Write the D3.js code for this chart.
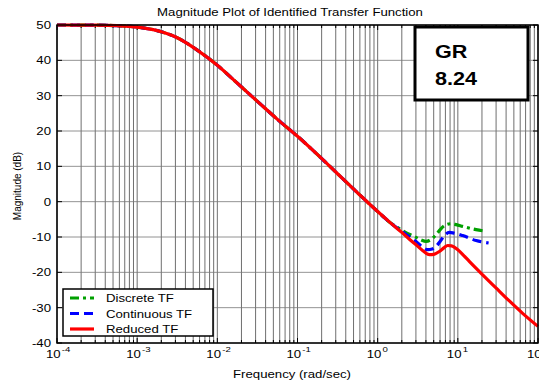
<!DOCTYPE html>
<html>
<head>
<meta charset="utf-8">
<script src="https://cdn.jsdelivr.net/npm/d3@7"></script>
<style>
  body { margin: 0; background: #fff; }
  svg { font-family: "Liberation Sans", Arial, sans-serif; }
</style>
</head>
<body>
<svg id="chart" width="539" height="381"></svg>
<script>
// shared low-frequency part (all three curves overlap here)
const lowW = [0.0001, 0.000316, 0.000562, 0.001, 0.00178, 0.00316, 0.00562, 0.01, 0.0178, 0.0316, 0.0562, 0.1, 0.178, 0.316, 0.562, 1, 1.41];
const lowDb = [50.0, 49.95, 49.8, 49.4, 48.4, 46.4, 42.9, 38.6, 33.5, 28.4, 23.3, 18.5, 13.3, 7.9, 2.5, -2.8, -5.8];

const reducedW = [2.05, 2.51, 3.01, 3.63, 4.42, 5.01, 5.89, 6.76, 7.46, 8.32, 10, 11.7, 13.9, 20.4, 29.9, 43.9, 64.3, 100];
const reducedDb = [-8.9, -10.7, -12.2, -13.8, -15.0, -14.9, -14.1, -13.0, -12.4, -12.5, -13.6, -15.1, -16.9, -20.7, -24.4, -28.1, -31.6, -35.3];

const continuousW = [2.05, 2.51, 3.01, 3.55, 4.2, 4.79, 5.35, 6.03, 6.79, 7.83, 8.91, 11.5, 16.9, 24.2];
const continuousDb = [-8.6, -10.0, -11.3, -12.7, -13.6, -13.4, -12.7, -11.2, -9.6, -8.7, -8.9, -9.6, -11.0, -11.7];

const discreteW = [2.05, 2.51, 3.01, 3.47, 4.01, 4.57, 5.35, 6.03, 6.79, 8.22, 9.55, 11.5, 16.9, 22.4];
const discreteDb = [-8.2, -9.3, -10.1, -10.8, -11.25, -10.8, -9.35, -7.9, -6.8, -6.25, -6.5, -7.0, -7.9, -8.4];

const yTicks = [-40, -30, -20, -10, 0, 10, 20, 30, 40, 50];
const xDecades = [-4, -3, -2, -1, 0, 1, 2];

const series = [
  { name: "Discrete TF", color: "#00a000", dash: "9,4,3,4", w: discreteW, db: discreteDb },
  { name: "Continuous TF", color: "#0000ff", dash: "9,5", w: continuousW, db: continuousDb },
  { name: "Reduced TF", color: "#ff0000", dash: null, w: reducedW, db: reducedDb },
];

const margin = { left: 57, right: 1, top: 25, bottom: 38 };
const width = 539, height = 381;
const sx = 1.2; // text in the original is stretched horizontally
const svg = d3.select("#chart");

const x = d3.scaleLog().domain([1e-4, 1e2]).range([margin.left, width - margin.right]);
const y = d3.scaleLinear().domain([-40, 50]).range([height - margin.bottom, margin.top]);

// minor log positions for grid
const minor = [];
xDecades.slice(0, -1).forEach(d => {
  for (let k = 1; k < 10; k++) minor.push(k * Math.pow(10, d));
});
minor.push(100);

const grid = svg.append("g");
grid.selectAll("line.v")
  .data(minor)
  .join("line")
  .attr("x1", d => x(d)).attr("x2", d => x(d))
  .attr("y1", y(50)).attr("y2", y(-40))
  .attr("stroke", "#4a4a4a").attr("stroke-width", 0.8);
grid.selectAll("line.h")
  .data(yTicks)
  .join("line")
  .attr("x1", x(1e-4)).attr("x2", x(1e2))
  .attr("y1", d => y(d)).attr("y2", d => y(d))
  .attr("stroke", "#777").attr("stroke-width", 0.8);

// tick marks (inside, on all four sides)
const ticks = svg.append("g").attr("stroke", "#000").attr("stroke-width", 1);
minor.forEach(d => {
  const len = (Math.log10(d) % 1 === 0) ? 5 : 3;
  ticks.append("line").attr("x1", x(d)).attr("x2", x(d)).attr("y1", y(-40)).attr("y2", y(-40) - len);
  ticks.append("line").attr("x1", x(d)).attr("x2", x(d)).attr("y1", y(50)).attr("y2", y(50) + len);
});
yTicks.forEach(d => {
  ticks.append("line").attr("x1", x(1e-4)).attr("x2", x(1e-4) + 5).attr("y1", y(d)).attr("y2", y(d));
  ticks.append("line").attr("x1", x(1e2)).attr("x2", x(1e2) - 5).attr("y1", y(d)).attr("y2", y(d));
});

// curves
const line = d3.line()
  .x(d => x(d[0]))
  .y(d => y(d[1]))
  .curve(d3.curveMonotoneX);

svg.append("g").selectAll("path")
  .data(series)
  .join("path")
  .attr("fill", "none")
  .attr("stroke", d => d.color)
  .attr("stroke-width", 3.2)
  .attr("stroke-dasharray", d => d.dash)
  .attr("d", d => line(d3.zip(lowW.concat(d.w), lowDb.concat(d.db))));

// frame
svg.append("rect")
  .attr("x", x(1e-4)).attr("y", y(50))
  .attr("width", x(1e2) - x(1e-4)).attr("height", y(-40) - y(50))
  .attr("fill", "none").attr("stroke", "#000").attr("stroke-width", 1.5);

const at = (px, py) => `translate(${px},${py}) scale(${sx},1)`;

// y tick labels
svg.append("g").attr("text-anchor", "end").attr("font-size", 11)
  .selectAll("text")
  .data(yTicks)
  .join("text")
  .attr("transform", d => at(51, y(d) + 4))
  .text(d => d);

// x tick labels 10^n
svg.append("g").attr("font-size", 11)
  .selectAll("text")
  .data(xDecades)
  .join("text")
  .attr("transform", d => at(x(Math.pow(10, d)) - 11, 358))
  .call(t => t.append("tspan").text("10"))
  .call(t => t.append("tspan").attr("font-size", 8).attr("dy", -6).attr("dx", 1).text(d => d));

// titles
svg.append("text").attr("transform", at(290, 16)).attr("text-anchor", "middle")
  .attr("font-size", 11).text("Magnitude Plot of Identified Transfer Function");
svg.append("text").attr("transform", at(292, 378)).attr("text-anchor", "middle")
  .attr("font-size", 11).text("Frequency (rad/sec)");
svg.append("text").attr("transform", "translate(21,186) rotate(-90)").attr("text-anchor", "middle")
  .attr("font-size", 10).text("Magnitude (dB)");

// GR annotation box
const gr = svg.append("g");
gr.append("rect").attr("x", 415).attr("y", 27).attr("width", 113).attr("height", 73)
  .attr("fill", "#fff").attr("stroke", "#000").attr("stroke-width", 3);
gr.append("text").attr("transform", at(435, 58)).attr("font-size", 18).attr("font-weight", "bold").text("GR");
gr.append("text").attr("transform", at(435, 85)).attr("font-size", 18).attr("font-weight", "bold").text("8.24");

// legend
const lg = svg.append("g");
lg.append("rect").attr("x", 63).attr("y", 289).attr("width", 150).attr("height", 47)
  .attr("fill", "#fff").attr("stroke", "#000").attr("stroke-width", 1.5);
lg.selectAll("g")
  .data(series)
  .join("g")
  .attr("transform", (d, i) => `translate(0,${298 + i * 15.5})`)
  .call(g => g.append("line")
    .attr("x1", 70).attr("x2", 94)
    .attr("stroke", d => d.color).attr("stroke-width", 3.2)
    .attr("stroke-dasharray", d => d.dash))
  .call(g => g.append("text")
    .attr("transform", at(106, 4)).attr("font-size", 11)
    .text(d => d.name));
</script>
</body>
</html>
